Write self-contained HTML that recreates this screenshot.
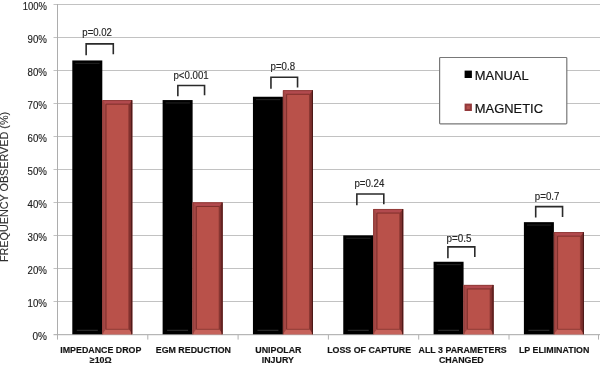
<!DOCTYPE html>
<html><head><meta charset="utf-8"><title>Chart</title>
<style>
html,body{margin:0;padding:0;background:#fff;}
body{width:600px;height:366px;overflow:hidden;}
svg{display:block;}
text{font-family:"Liberation Sans",sans-serif;}
.yt{font-size:11.5px;fill:#202020;stroke:#202020;stroke-width:0.15px;}
.xl{font-size:8.85px;font-weight:bold;fill:#141414;stroke:#141414;stroke-width:0.15px;}
.pv{font-size:10px;fill:#262626;stroke:#262626;stroke-width:0.15px;}
.lg{font-size:13px;fill:#111;stroke:#111;stroke-width:0.2px;}
.yl{font-size:10px;fill:#303030;stroke:#303030;stroke-width:0.1px;}
</style></head><body>
<svg width="600" height="366" viewBox="0 0 600 366">
<rect x="0" y="0" width="600" height="366" fill="#ffffff"/>

<line x1="53.5" x2="600" y1="334.70" y2="334.70" stroke="#a6a6a6" stroke-width="1"/>
<line x1="53.5" x2="600" y1="301.50" y2="301.50" stroke="#c2c2c2" stroke-width="1"/>
<line x1="53.5" x2="600" y1="268.50" y2="268.50" stroke="#c2c2c2" stroke-width="1"/>
<line x1="53.5" x2="600" y1="235.50" y2="235.50" stroke="#c2c2c2" stroke-width="1"/>
<line x1="53.5" x2="600" y1="202.50" y2="202.50" stroke="#c2c2c2" stroke-width="1"/>
<line x1="53.5" x2="600" y1="169.50" y2="169.50" stroke="#c2c2c2" stroke-width="1"/>
<line x1="53.5" x2="600" y1="136.50" y2="136.50" stroke="#c2c2c2" stroke-width="1"/>
<line x1="53.5" x2="600" y1="103.50" y2="103.50" stroke="#c2c2c2" stroke-width="1"/>
<line x1="53.5" x2="600" y1="70.50" y2="70.50" stroke="#c2c2c2" stroke-width="1"/>
<line x1="53.5" x2="600" y1="37.50" y2="37.50" stroke="#c2c2c2" stroke-width="1"/>
<line x1="53.5" x2="600" y1="4.50" y2="4.50" stroke="#c2c2c2" stroke-width="1"/>
<line x1="57.5" x2="57.5" y1="4" y2="335" stroke="#adadad" stroke-width="1"/>
<line x1="57.50" x2="57.50" y1="335" y2="339.6" stroke="#b0b0b0" stroke-width="1"/>
<line x1="147.80" x2="147.80" y1="335" y2="339.6" stroke="#b0b0b0" stroke-width="1"/>
<line x1="238.10" x2="238.10" y1="335" y2="339.6" stroke="#b0b0b0" stroke-width="1"/>
<line x1="328.40" x2="328.40" y1="335" y2="339.6" stroke="#b0b0b0" stroke-width="1"/>
<line x1="418.70" x2="418.70" y1="335" y2="339.6" stroke="#b0b0b0" stroke-width="1"/>
<line x1="509.00" x2="509.00" y1="335" y2="339.6" stroke="#b0b0b0" stroke-width="1"/>
<line x1="598.50" x2="598.50" y1="335" y2="339.6" stroke="#b0b0b0" stroke-width="1"/>
<text class="yt" x="46.9" y="339.70" text-anchor="end" textLength="14.5" lengthAdjust="spacingAndGlyphs">0%</text>
<text class="yt" x="46.9" y="306.70" text-anchor="end" textLength="19.4" lengthAdjust="spacingAndGlyphs">10%</text>
<text class="yt" x="46.9" y="273.70" text-anchor="end" textLength="19.4" lengthAdjust="spacingAndGlyphs">20%</text>
<text class="yt" x="46.9" y="240.70" text-anchor="end" textLength="19.4" lengthAdjust="spacingAndGlyphs">30%</text>
<text class="yt" x="46.9" y="207.70" text-anchor="end" textLength="19.4" lengthAdjust="spacingAndGlyphs">40%</text>
<text class="yt" x="46.9" y="174.70" text-anchor="end" textLength="19.4" lengthAdjust="spacingAndGlyphs">50%</text>
<text class="yt" x="46.9" y="141.70" text-anchor="end" textLength="19.4" lengthAdjust="spacingAndGlyphs">60%</text>
<text class="yt" x="46.9" y="108.70" text-anchor="end" textLength="19.4" lengthAdjust="spacingAndGlyphs">70%</text>
<text class="yt" x="46.9" y="75.70" text-anchor="end" textLength="19.4" lengthAdjust="spacingAndGlyphs">80%</text>
<text class="yt" x="46.9" y="42.70" text-anchor="end" textLength="19.4" lengthAdjust="spacingAndGlyphs">90%</text>
<text class="yt" x="46.9" y="9.70" text-anchor="end" textLength="24.2" lengthAdjust="spacingAndGlyphs">100%</text>
<rect x="72.30" y="60.45" width="30.00" height="273.85" fill="#000"/>
<line x1="75.30" x2="99.60" y1="63.35" y2="63.35" stroke="#232323" stroke-width="1"/>
<line x1="76.80" x2="97.80" y1="330.30" y2="330.30" stroke="#333" stroke-width="1"/>
<rect x="102.30" y="100.15" width="29.95" height="234.15" fill="#b9514a"/>
<polygon points="102.30,100.15 132.25,100.15 128.85,104.15 106.00,104.15" fill="#b24a4e"/>
<polygon points="102.30,100.15 106.00,104.15 106.00,329.30 102.30,334.30" fill="#a34745"/>
<polygon points="132.25,100.15 128.85,104.15 128.85,329.30 132.25,334.30" fill="#7e2f2d"/>
<polygon points="102.30,334.30 106.00,329.30 128.85,329.30 132.25,334.30" fill="#c6635b"/>
<polyline points="106.00,329.30 106.00,104.15 128.85,104.15" fill="none" stroke="#7e2f2b" stroke-width="1"/>
<polyline points="106.00,329.30 128.85,329.30 128.85,104.15" fill="none" stroke="#8a3833" stroke-width="0.9"/>
<polyline points="102.70,334.30 102.70,100.55 131.85,100.55" fill="none" stroke="#8a3835" stroke-width="0.8"/>
<line x1="131.75" x2="131.75" y1="100.15" y2="334.30" stroke="#451615" stroke-width="1"/>
<rect x="162.62" y="100.05" width="30.00" height="234.25" fill="#000"/>
<line x1="165.62" x2="189.92" y1="102.95" y2="102.95" stroke="#232323" stroke-width="1"/>
<line x1="167.12" x2="188.12" y1="330.30" y2="330.30" stroke="#333" stroke-width="1"/>
<rect x="192.62" y="202.45" width="29.95" height="131.85" fill="#b9514a"/>
<polygon points="192.62,202.45 222.57,202.45 219.17,206.45 196.32,206.45" fill="#b24a4e"/>
<polygon points="192.62,202.45 196.32,206.45 196.32,329.30 192.62,334.30" fill="#a34745"/>
<polygon points="222.57,202.45 219.17,206.45 219.17,329.30 222.57,334.30" fill="#7e2f2d"/>
<polygon points="192.62,334.30 196.32,329.30 219.17,329.30 222.57,334.30" fill="#c6635b"/>
<polyline points="196.32,329.30 196.32,206.45 219.17,206.45" fill="none" stroke="#7e2f2b" stroke-width="1"/>
<polyline points="196.32,329.30 219.17,329.30 219.17,206.45" fill="none" stroke="#8a3833" stroke-width="0.9"/>
<polyline points="193.02,334.30 193.02,202.85 222.17,202.85" fill="none" stroke="#8a3835" stroke-width="0.8"/>
<line x1="222.07" x2="222.07" y1="202.45" y2="334.30" stroke="#451615" stroke-width="1"/>
<rect x="252.94" y="96.75" width="30.00" height="237.55" fill="#000"/>
<line x1="255.94" x2="280.24" y1="99.65" y2="99.65" stroke="#232323" stroke-width="1"/>
<line x1="257.44" x2="278.44" y1="330.30" y2="330.30" stroke="#333" stroke-width="1"/>
<rect x="282.94" y="90.25" width="29.95" height="244.05" fill="#b9514a"/>
<polygon points="282.94,90.25 312.89,90.25 309.49,94.25 286.64,94.25" fill="#b24a4e"/>
<polygon points="282.94,90.25 286.64,94.25 286.64,329.30 282.94,334.30" fill="#a34745"/>
<polygon points="312.89,90.25 309.49,94.25 309.49,329.30 312.89,334.30" fill="#7e2f2d"/>
<polygon points="282.94,334.30 286.64,329.30 309.49,329.30 312.89,334.30" fill="#c6635b"/>
<polyline points="286.64,329.30 286.64,94.25 309.49,94.25" fill="none" stroke="#7e2f2b" stroke-width="1"/>
<polyline points="286.64,329.30 309.49,329.30 309.49,94.25" fill="none" stroke="#8a3833" stroke-width="0.9"/>
<polyline points="283.34,334.30 283.34,90.65 312.49,90.65" fill="none" stroke="#8a3835" stroke-width="0.8"/>
<line x1="312.39" x2="312.39" y1="90.25" y2="334.30" stroke="#451615" stroke-width="1"/>
<rect x="343.26" y="235.35" width="30.00" height="98.95" fill="#000"/>
<line x1="346.26" x2="370.56" y1="238.25" y2="238.25" stroke="#232323" stroke-width="1"/>
<line x1="347.76" x2="368.76" y1="330.30" y2="330.30" stroke="#333" stroke-width="1"/>
<rect x="373.26" y="209.05" width="29.95" height="125.25" fill="#b9514a"/>
<polygon points="373.26,209.05 403.21,209.05 399.81,213.05 376.96,213.05" fill="#b24a4e"/>
<polygon points="373.26,209.05 376.96,213.05 376.96,329.30 373.26,334.30" fill="#a34745"/>
<polygon points="403.21,209.05 399.81,213.05 399.81,329.30 403.21,334.30" fill="#7e2f2d"/>
<polygon points="373.26,334.30 376.96,329.30 399.81,329.30 403.21,334.30" fill="#c6635b"/>
<polyline points="376.96,329.30 376.96,213.05 399.81,213.05" fill="none" stroke="#7e2f2b" stroke-width="1"/>
<polyline points="376.96,329.30 399.81,329.30 399.81,213.05" fill="none" stroke="#8a3833" stroke-width="0.9"/>
<polyline points="373.66,334.30 373.66,209.45 402.81,209.45" fill="none" stroke="#8a3835" stroke-width="0.8"/>
<line x1="402.71" x2="402.71" y1="209.05" y2="334.30" stroke="#451615" stroke-width="1"/>
<rect x="433.58" y="261.75" width="30.00" height="72.55" fill="#000"/>
<line x1="436.58" x2="460.88" y1="264.65" y2="264.65" stroke="#232323" stroke-width="1"/>
<line x1="438.08" x2="459.08" y1="330.30" y2="330.30" stroke="#333" stroke-width="1"/>
<rect x="463.58" y="284.95" width="29.95" height="49.35" fill="#b9514a"/>
<polygon points="463.58,284.95 493.53,284.95 490.13,288.95 467.28,288.95" fill="#b24a4e"/>
<polygon points="463.58,284.95 467.28,288.95 467.28,329.30 463.58,334.30" fill="#a34745"/>
<polygon points="493.53,284.95 490.13,288.95 490.13,329.30 493.53,334.30" fill="#7e2f2d"/>
<polygon points="463.58,334.30 467.28,329.30 490.13,329.30 493.53,334.30" fill="#c6635b"/>
<polyline points="467.28,329.30 467.28,288.95 490.13,288.95" fill="none" stroke="#7e2f2b" stroke-width="1"/>
<polyline points="467.28,329.30 490.13,329.30 490.13,288.95" fill="none" stroke="#8a3833" stroke-width="0.9"/>
<polyline points="463.98,334.30 463.98,285.35 493.13,285.35" fill="none" stroke="#8a3835" stroke-width="0.8"/>
<line x1="493.03" x2="493.03" y1="284.95" y2="334.30" stroke="#451615" stroke-width="1"/>
<rect x="523.90" y="222.15" width="30.00" height="112.15" fill="#000"/>
<line x1="526.90" x2="551.20" y1="225.05" y2="225.05" stroke="#232323" stroke-width="1"/>
<line x1="528.40" x2="549.40" y1="330.30" y2="330.30" stroke="#333" stroke-width="1"/>
<rect x="553.90" y="232.15" width="29.95" height="102.15" fill="#b9514a"/>
<polygon points="553.90,232.15 583.85,232.15 580.45,236.15 557.60,236.15" fill="#b24a4e"/>
<polygon points="553.90,232.15 557.60,236.15 557.60,329.30 553.90,334.30" fill="#a34745"/>
<polygon points="583.85,232.15 580.45,236.15 580.45,329.30 583.85,334.30" fill="#7e2f2d"/>
<polygon points="553.90,334.30 557.60,329.30 580.45,329.30 583.85,334.30" fill="#c6635b"/>
<polyline points="557.60,329.30 557.60,236.15 580.45,236.15" fill="none" stroke="#7e2f2b" stroke-width="1"/>
<polyline points="557.60,329.30 580.45,329.30 580.45,236.15" fill="none" stroke="#8a3833" stroke-width="0.9"/>
<polyline points="554.30,334.30 554.30,232.55 583.45,232.55" fill="none" stroke="#8a3835" stroke-width="0.8"/>
<line x1="583.35" x2="583.35" y1="232.15" y2="334.30" stroke="#451615" stroke-width="1"/>
<polyline points="86.15,55.30 86.15,43.90 113.30,43.90 113.30,54.15" fill="none" stroke="#2a2a2a" stroke-width="1.6"/>
<text class="pv" x="82.30" y="35.90" textLength="29.6" lengthAdjust="spacingAndGlyphs">p=0.02</text>
<polyline points="177.85,96.30 177.85,85.45 204.55,85.45 204.55,95.15" fill="none" stroke="#2a2a2a" stroke-width="1.6"/>
<text class="pv" x="173.50" y="78.90" textLength="35.2" lengthAdjust="spacingAndGlyphs">p&lt;0.001</text>
<polyline points="270.95,88.80 270.95,77.25 297.55,77.25 297.55,87.40" fill="none" stroke="#2a2a2a" stroke-width="1.6"/>
<text class="pv" x="270.55" y="69.90" textLength="24.5" lengthAdjust="spacingAndGlyphs">p=0.8</text>
<polyline points="356.85,205.30 356.85,194.00 383.80,194.00 383.80,204.15" fill="none" stroke="#2a2a2a" stroke-width="1.6"/>
<text class="pv" x="354.40" y="187.15" textLength="29.9" lengthAdjust="spacingAndGlyphs">p=0.24</text>
<polyline points="447.90,258.30 447.90,246.90 474.80,246.90 474.80,256.90" fill="none" stroke="#2a2a2a" stroke-width="1.6"/>
<text class="pv" x="446.40" y="241.90" textLength="25.0" lengthAdjust="spacingAndGlyphs">p=0.5</text>
<polyline points="535.70,217.60 535.70,206.65 562.55,206.65 562.55,216.90" fill="none" stroke="#2a2a2a" stroke-width="1.6"/>
<text class="pv" x="534.80" y="200.00" textLength="24.7" lengthAdjust="spacingAndGlyphs">p=0.7</text>
<text class="xl" x="100.85" y="352.90" text-anchor="middle">IMPEDANCE DROP</text>
<text class="xl" x="100.70" y="363.40" text-anchor="middle">≥10Ω</text>
<text class="xl" x="193.35" y="352.90" text-anchor="middle">EGM REDUCTION</text>
<text class="xl" x="278.35" y="352.90" text-anchor="middle">UNIPOLAR</text>
<text class="xl" x="277.80" y="363.40" text-anchor="middle">INJURY</text>
<text class="xl" x="369.15" y="352.90" text-anchor="middle">LOSS OF CAPTURE</text>
<text class="xl" x="462.65" y="352.90" text-anchor="middle">ALL 3 PARAMETERS</text>
<text class="xl" x="461.35" y="363.40" text-anchor="middle">CHANGED</text>
<text class="xl" x="554.15" y="352.90" text-anchor="middle">LP ELIMINATION</text>
<text class="yl" transform="translate(8.3,187.0) rotate(-90)" text-anchor="middle" textLength="150.2" lengthAdjust="spacingAndGlyphs">FREQUENCY OBSERVED (%)</text>
<rect x="439.6" y="57.5" width="127.2" height="66.3" rx="0.8" fill="#fff" stroke="#787878" stroke-width="1.2"/>
<rect x="464.6" y="70.6" width="7.3" height="7.4" fill="#000"/>
<text class="lg" x="474.85" y="80" textLength="53.75" lengthAdjust="spacingAndGlyphs">MANUAL</text>
<rect x="464.6" y="103.6" width="7.3" height="7.4" fill="#93393b"/>
<rect x="466.6" y="105.6" width="3.3" height="3.4" fill="#b5504c"/>
<text class="lg" x="474.85" y="113" textLength="68.15" lengthAdjust="spacingAndGlyphs">MAGNETIC</text>
</svg></body></html>
